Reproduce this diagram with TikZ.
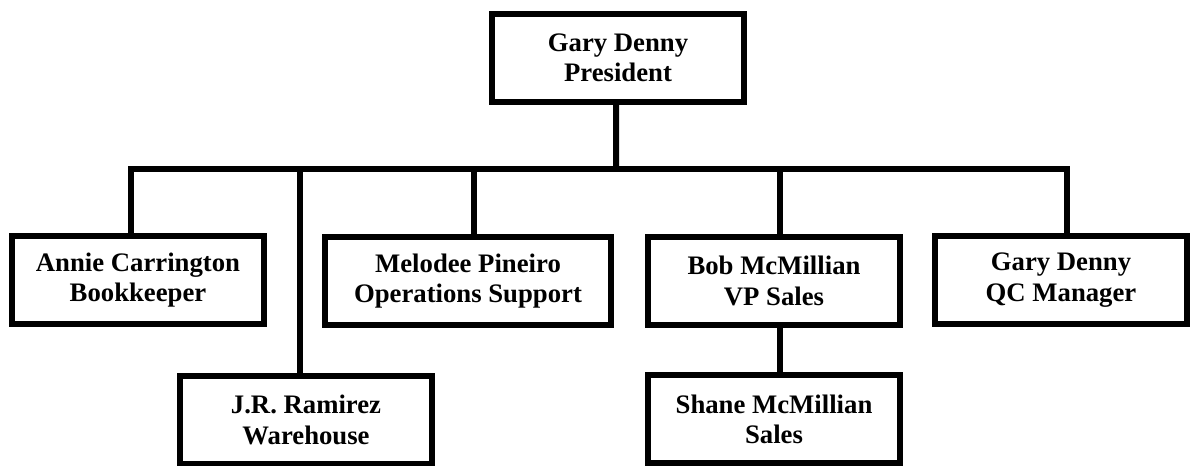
\documentclass[tikz,border=0pt]{standalone}
\usepackage{fontspec}
\setmainfont{Liberation Serif}
\begin{document}
\begin{tikzpicture}[
  x=0.025cm, y=-0.025cm,
  box/.style={rectangle, draw, line width=0.15cm, minimum width=6.3cm, minimum height=2.2cm, align=center, font=\bfseries\fontsize{19}{21.5}\selectfont},
  link/.style={line width=0.15cm}
]
\useasboundingbox (0,0) rectangle (1190,466);
\node[box] (pres) at (618,58) {Gary Denny\\President};
\node[box] (annie) at (138,280) {Annie Carrington\\Bookkeeper};
\node[box, minimum width=7.15cm] (melodee) at (468,281) {Melodee Pineiro\\Operations Support};
\node[box] (bob) at (774,281) {Bob McMillian\\VP Sales};
\node[box] (qc) at (1061,280) {Gary Denny\\QC Manager};
\node[box] (jr) at (306,420) {J.R. Ramirez\\Warehouse};
\node[box] (shane) at (774,419) {Shane McMillian\\Sales};

\coordinate (bus) at (616,169);
\draw[link] ([xshift=-0.175cm]annie.north) |- (bus) -| ([xshift=0.16cm]qc.north);
\draw[link] ([xshift=-0.05cm]pres.south) -- (bus);
\draw[link] ([xshift=-0.16cm]jr.north) |- (bus);
\draw[link] ([xshift=0.15cm]melodee.north) |- (bus);
\draw[link] ([xshift=0.15cm]bob.north) |- (bus);
\draw[link] ([xshift=0.15cm]bob.south) -- ([xshift=0.15cm]shane.north);
\end{tikzpicture}
\end{document}
